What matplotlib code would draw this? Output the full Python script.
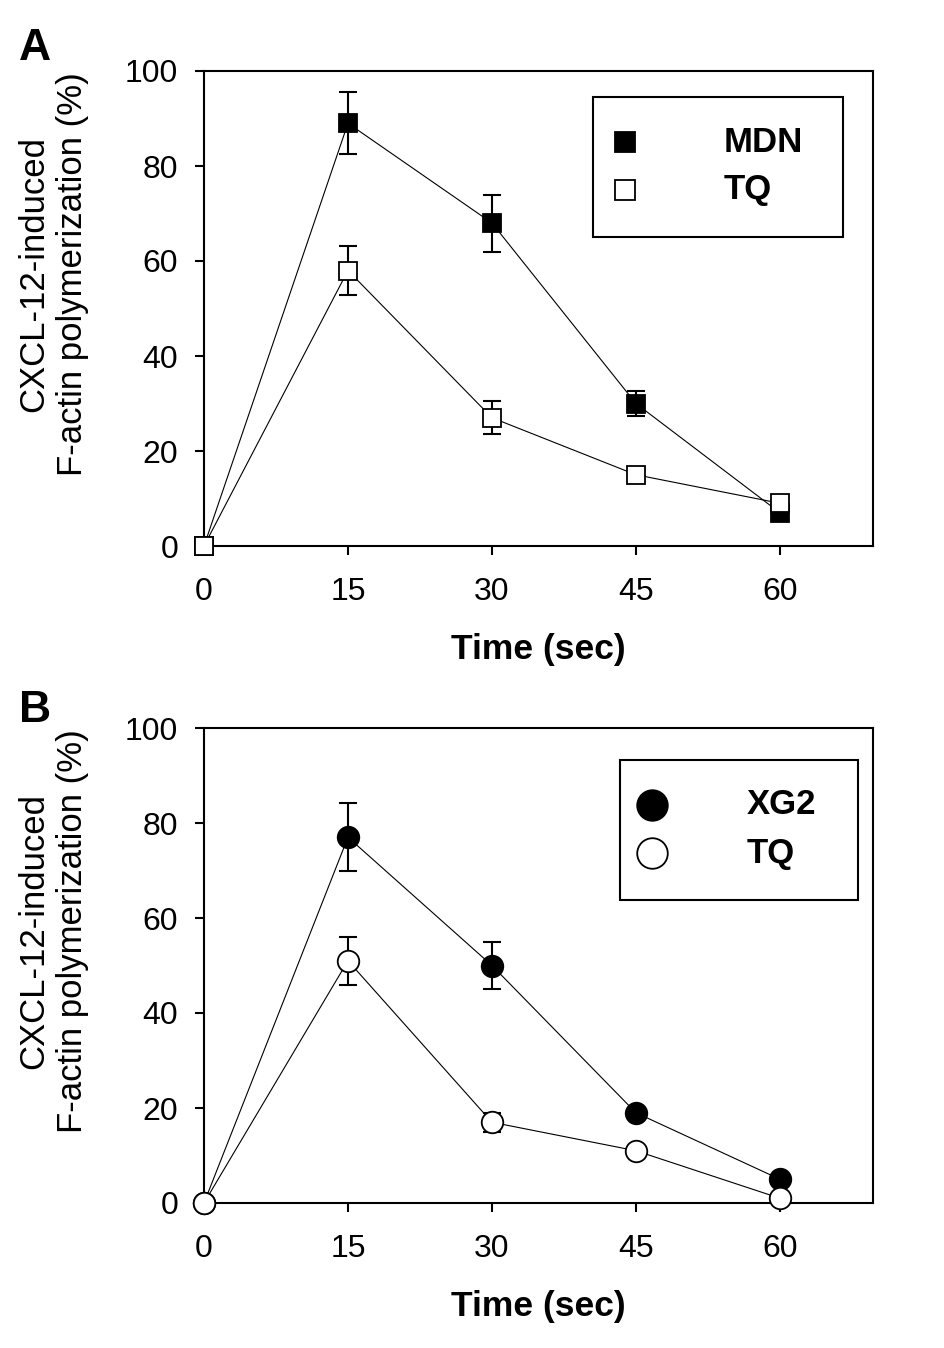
import matplotlib
matplotlib.use("Agg")
import matplotlib.pyplot as plt
from matplotlib.patches import Rectangle

plt.rcParams['font.family'] = ['Liberation Sans', 'DejaVu Sans']

# ---------------- data ----------------
time_sec = [0, 15, 30, 45, 60]
x_ticks = [0, 15, 30, 45, 60]
y_ticks = [0, 20, 40, 60, 80, 100]

# Panel A
mdn_mean = [0, 89, 68, 30, 7]
mdn_err = [0, 6.5, 6.0, 2.6, 0]
tqA_mean = [0, 58, 27, 15, 9]
tqA_err = [0, 5.2, 3.5, 0.8, 0]

# Panel B
xg2_mean = [0, 77, 50, 19, 5]
xg2_err = [0, 7.2, 5.0, 1.0, 0]
tqB_mean = [0, 51, 17, 11, 1]
tqB_err = [0, 5.0, 2.0, 0.5, 0]

ylabel_text = "CXCL-12-induced\nF-actin polymerization (%)"
xlabel_text = "Time (sec)"

W, H = 945, 1348
fig = plt.figure(figsize=(W / 100, H / 100), dpi=100)

def px_rect(left, top, right, bottom):
    return [left / W, 1 - bottom / H, (right - left) / W, (bottom - top) / H]

axA = fig.add_axes(px_rect(204, 71, 873, 546))
axB = fig.add_axes(px_rect(204, 728, 873, 1203))

def style_axes(ax):
    ax.set_xlim(0, 69.7)
    ax.set_ylim(0, 100)
    ax.set_xticks(x_ticks)
    ax.set_yticks(y_ticks)
    for s in ax.spines.values():
        s.set_linewidth(1.5)
    ax.tick_params(axis='both', direction='out', length=6.5, width=1.5,
                   labelsize=23, top=False, right=False)
    ax.tick_params(axis='x', pad=16)
    ax.tick_params(axis='y', pad=12)
    ax.set_xlabel(xlabel_text, fontsize=25.5, fontweight='bold')
    ax.xaxis.set_label_coords(0.5, -0.183)
    ax.set_ylabel(ylabel_text, fontsize=25, linespacing=1.2)
    ax.yaxis.set_label_coords(-0.172, 0.572)

def series(ax, y, err, marker, face, ms):
    ax.errorbar(time_sec, y, yerr=err, fmt='none', ecolor='black',
                elinewidth=1.5, capsize=6.5, capthick=1.5, zorder=2,
                clip_on=False)
    ax.plot(time_sec, y, color='black', lw=0.8, zorder=3, clip_on=False)
    ax.plot(time_sec, y, linestyle='none', marker=marker, ms=ms,
            mfc=face, mec='black', mew=1.3, zorder=4, clip_on=False)

for ax in (axA, axB):
    style_axes(ax)

series(axA, mdn_mean, mdn_err, 's', 'black', 13)
series(axA, tqA_mean, tqA_err, 's', 'white', 13)
series(axB, xg2_mean, xg2_err, 'o', 'black', 15.5)
series(axB, tqB_mean, tqB_err, 'o', 'white', 15.5)

# ---------------- legends (drawn as boxes in pixel coords) ----------------
def px2ax(ax, x, y):
    inv = ax.transAxes.inverted()
    return inv.transform((x, H - y))

def draw_legend(ax, box, entries, ms):
    l, t, r, b = box
    (x0, y0) = px2ax(ax, l, b)
    (x1, y1) = px2ax(ax, r, t)
    ax.add_patch(Rectangle((x0, y0), x1 - x0, y1 - y0, transform=ax.transAxes,
                           fill=True, facecolor='white', edgecolor='black',
                           lw=1.5, zorder=6))
    for (mx, my, tx, marker, face, label) in entries:
        ax_m = px2ax(ax, mx, my)
        ax.plot([ax_m[0]], [ax_m[1]], transform=ax.transAxes, marker=marker,
                ms=ms, mfc=face, mec='black', mew=1.3, linestyle='none',
                zorder=7, clip_on=False)
        ax_t = px2ax(ax, tx, my)
        ax.text(ax_t[0], ax_t[1], label, transform=ax.transAxes,
                fontsize=25, fontweight='bold', ha='left', va='center',
                zorder=7)

draw_legend(axA, (593, 97, 843, 237),
            [(625, 142, 724, 's', 'black', 'MDN'),
             (625, 190, 724, 's', 'white', 'TQ')], 15)
draw_legend(axB, (620, 760, 858, 900),
            [(652, 805, 747, 'o', 'black', 'XG2'),
             (652, 853, 747, 'o', 'white', 'TQ')], 22)

# panel letters
fig.text(19 / W, 1 - 60 / H, "A", fontsize=32, fontweight='bold',
         ha='left', va='baseline')
fig.text(19 / W, 1 - 722 / H, "B", fontsize=32, fontweight='bold',
         ha='left', va='baseline')

fig.savefig("out.png", dpi=100)
